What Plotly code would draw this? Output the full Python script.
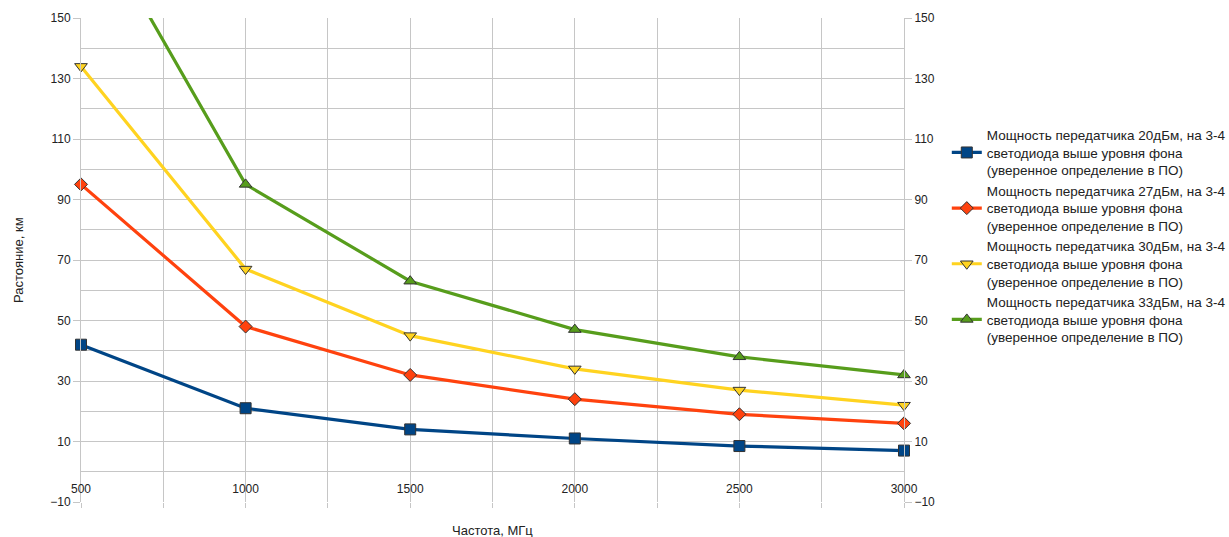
import plotly.graph_objects as go

# Frequency, MHz
freq = [500, 1000, 1500, 2000, 2500, 3000]

# Detection distance, km, for each transmitter power
dist_20dbm = [42, 21, 14, 11, 8.5, 7]
dist_27dbm = [95, 48, 32, 24, 19, 16]
dist_30dbm = [134, 67, 45, 34, 27, 22]
dist_33dbm = [190, 95, 63, 47, 38, 32]

suffix = ", на 3-4<br>светодиода выше уровня фона<br>(уверенное определение в ПО)"
names = [
    "Мощность передатчика 20дБм" + suffix,
    "Мощность передатчика 27дБм" + suffix,
    "Мощность передатчика 30дБм" + suffix,
    "Мощность передатчика 33дБм" + suffix,
]
series = [dist_20dbm, dist_27dbm, dist_30dbm, dist_33dbm]
colors = ["#004586", "#ff420e", "#ffd320", "#579d1c"]
symbols = ["square", "diamond", "triangle-down", "triangle-up"]
msizes = [11, 10, 11, 11]

y_ticks = list(range(-10, 151, 20))
x_labels = [500, 1000, 1500, 2000, 2500, 3000]
x_grid = list(range(500, 3001, 250))

FONT = "Liberation Sans, Arial, sans-serif"
GRID = "#c6c6c6"

fig = go.Figure()
for name, vals, col, sym, ms in zip(names, series, colors, symbols, msizes):
    fig.add_trace(go.Scatter(
        x=freq, y=vals, name=name, mode="lines+markers",
        line=dict(color=col, width=3.2),
        marker=dict(symbol=sym, size=ms, color=col,
                    line=dict(color="#333333", width=1)),
        cliponaxis=False,
    ))

# transparent copy on the secondary axes so the right-hand scale is drawn
fig.add_trace(go.Scatter(
    x=freq, y=dist_20dbm, xaxis="x2", yaxis="y2", mode="lines",
    line=dict(width=0), opacity=0, showlegend=False, hoverinfo="skip",
))

fig.update_layout(
    width=1229, height=537,
    margin=dict(l=81, r=325, t=18, b=35, autoexpand=False),
    paper_bgcolor="white", plot_bgcolor="white",
    font=dict(family=FONT, size=12, color="#222222"),
    legend=dict(
        x=1.052, y=0.79, xanchor="left", yanchor="top",
        font=dict(family=FONT, size=13.5, color="#222222"),
        bgcolor="rgba(0,0,0,0)", tracegroupgap=0, itemwidth=30,
    ),
    xaxis=dict(
        range=[500, 3000], anchor="free", position=10 / 160,
        tickmode="array", tickvals=x_grid,
        ticktext=[str(v) if v in x_labels else "" for v in x_grid],
        ticks="outside", ticklen=6, tickcolor="rgba(0,0,0,0)",
        showgrid=True, gridcolor=GRID, gridwidth=1,
        zeroline=False, showline=False,
        tickfont=dict(family=FONT, size=12, color="#222222"),
    ),
    xaxis2=dict(
        range=[500, 3000], overlaying="x", anchor="y2", side="bottom",
        tickmode="array", tickvals=x_grid, showticklabels=False,
        ticks="outside", ticklen=5, tickcolor=GRID,
        showgrid=False, zeroline=False, showline=False,
    ),
    yaxis=dict(
        range=[-10, 150], tickmode="array", tickvals=y_ticks,
        ticks="outside", ticklen=7, tickcolor=GRID,
        showgrid=True, gridcolor=GRID, gridwidth=1,
        minor=dict(dtick=10, tick0=0, showgrid=True, gridcolor=GRID, gridwidth=1),
        zeroline=False, showline=True, linecolor=GRID,
        tickfont=dict(family=FONT, size=12, color="#222222"),
    ),
    yaxis2=dict(
        range=[-10, 150], overlaying="y", side="right", anchor="x2",
        tickmode="array", tickvals=y_ticks,
        ticks="outside", ticklen=7, tickcolor=GRID,
        showgrid=False, zeroline=False, showline=True, linecolor=GRID,
        tickfont=dict(family=FONT, size=12, color="#222222"),
    ),
    annotations=[
        dict(text="Частота, МГц", xref="paper", yref="paper",
             x=(492 - 81) / 823, y=-(530 - 502) / 484,
             xanchor="center", yanchor="middle", showarrow=False,
             font=dict(family=FONT, size=13, color="#222222")),
        dict(text="Растояние, км", xref="paper", yref="paper",
             x=-(81 - 18) / 823, y=0.5, textangle=-90,
             xanchor="center", yanchor="middle", showarrow=False,
             font=dict(family=FONT, size=13, color="#222222")),
    ],
)

fig.write_html("out.html")
